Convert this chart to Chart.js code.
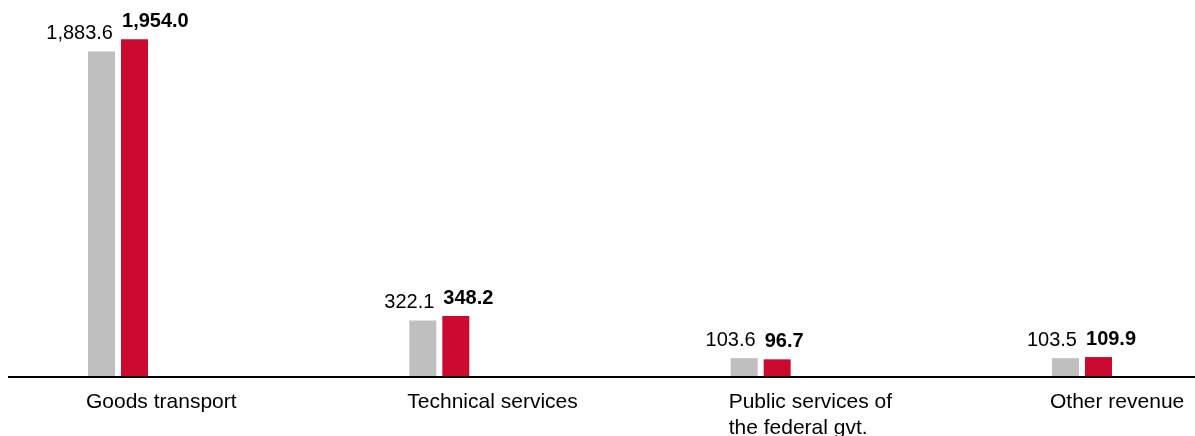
<!DOCTYPE html>
<html>
<head>
<meta charset="utf-8">
<script src="https://cdn.jsdelivr.net/npm/chart.js@4/dist/chart.umd.min.js"></script>
<style>
  html, body { margin: 0; padding: 0; background: #fff; }
  #wrap { width: 1195px; height: 436px; }
</style>
</head>
<body>
<div id="wrap"><canvas id="revenueChart" width="1195" height="436"></canvas></div>
<script>
// Revenue by segment, previous year vs. current year
const categories = [
  'Goods transport',
  'Technical services',
  ['Public services of', 'the federal gvt.'],
  'Other revenue'
];
const previousYear = [1883.6, 322.1, 103.6, 103.5];
const currentYear = [1954.0, 348.2, 96.7, 109.9];

const GREY = '#bfbfbf';
const RED = '#cc0a2f';
const FONT = "'Liberation Sans', Arial, sans-serif";

const fmt = v => v.toLocaleString('en-US', { minimumFractionDigits: 1, maximumFractionDigits: 1 });

// value labels: grey ones right-aligned to the bar, red ones left-aligned and bold
const valueLabels = {
  id: 'valueLabels',
  afterDatasetsDraw(chart) {
    const ctx = chart.ctx;
    ctx.save();
    ctx.fillStyle = '#000';
    ctx.textBaseline = 'alphabetic';
    chart.data.datasets.forEach((ds, di) => {
      chart.getDatasetMeta(di).data.forEach((bar, i) => {
        const half = bar.width / 2;
        if (di === 0) {
          ctx.font = '20px ' + FONT;
          ctx.textAlign = 'right';
          ctx.fillText(fmt(ds.data[i]), bar.x + half - 2, bar.y - 12);
        } else {
          ctx.font = 'bold 20px ' + FONT;
          ctx.textAlign = 'left';
          ctx.fillText(fmt(ds.data[i]), bar.x - half + 1, bar.y - 12);
        }
      });
    });
    ctx.restore();
  }
};

// baseline across the full width
const baseLine = {
  id: 'baseLine',
  afterDatasetsDraw(chart) {
    const ctx = chart.ctx;
    const y = chart.chartArea.bottom + 1;
    ctx.save();
    ctx.strokeStyle = '#000';
    ctx.lineWidth = 2;
    ctx.beginPath();
    ctx.moveTo(8, y);
    ctx.lineTo(chart.width, y);
    ctx.stroke();
    ctx.restore();
  }
};

new Chart(document.getElementById('revenueChart'), {
  type: 'bar',
  data: {
    labels: categories,
    datasets: [{
      label: 'Previous year',
      data: previousYear,
      backgroundColor: GREY,
      clip: false
    }, {
      label: 'Current year',
      data: currentYear,
      backgroundColor: RED,
      clip: false
    }]
  },
  options: {
    responsive: false,
    animation: false,
    categoryPercentage: 0.2054,
    barPercentage: 0.818,
    layout: {
      padding: { left: 118, right: 113, top: 0, bottom: 0 }
    },
    plugins: {
      legend: { display: false },
      tooltip: { enabled: false }
    },
    scales: {
      x: {
        offset: false,
        grid: { display: false, drawTicks: false },
        border: { display: false },
        ticks: {
          align: 'start',
          labelOffset: -32,
          padding: 14,
          maxRotation: 0,
          autoSkip: false,
          color: '#000',
          font: { family: FONT, size: 21, lineHeight: 1.2 }
        },
        afterFit(scale) {
          scale.height = 60;
          scale.paddingLeft = 0;
          scale.paddingRight = 0;
        }
      },
      y: {
        display: false,
        min: 0,
        max: 2182
      }
    }
  },
  plugins: [valueLabels, baseLine]
});
</script>
</body>
</html>
